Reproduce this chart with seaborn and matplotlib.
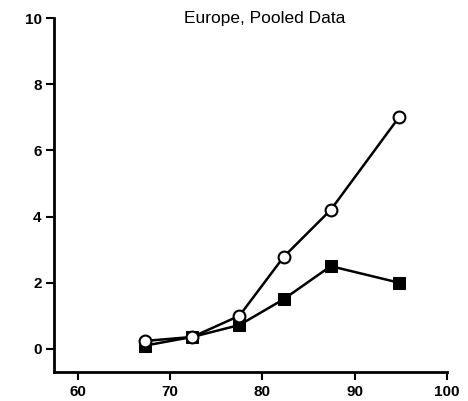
import seaborn as sns
import pandas as pd
import matplotlib.pyplot as plt

sns.set_style("ticks", {"axes.edgecolor": "black", "text.color": "black",
                        "xtick.color": "black", "ytick.color": "black"})
plt.rcParams['font.family'] = ['Liberation Sans', 'DejaVu Sans']

age = [67.3, 72.4, 77.5, 82.3, 87.4, 94.8]
open_vals = [0.24, 0.36, 1.0, 2.78, 4.2, 7.0]
filled_vals = [0.1, 0.36, 0.72, 1.5, 2.5, 2.0]

df_open = pd.DataFrame({"age": age, "value": open_vals})
df_filled = pd.DataFrame({"age": age, "value": filled_vals})

fig = plt.figure(figsize=(4.68, 4.01), dpi=100)
ax = fig.add_axes([0.1154, 0.0723, 0.8396, 0.8827])

sns.lineplot(data=df_filled, x="age", y="value", ax=ax, color="black", lw=1.8,
             marker="s", markersize=8.5, markerfacecolor="black", markeredgecolor="black")
sns.lineplot(data=df_open, x="age", y="value", ax=ax, color="black", lw=1.8,
             marker="o", markersize=8.5, markerfacecolor="white", markeredgecolor="black",
             markeredgewidth=1.5)

ax.set_xlim(57.4, 100)
ax.set_ylim(-0.7, 10)
ax.set_xticks([60, 70, 80, 90, 100])
ax.set_yticks([0, 2, 4, 6, 8, 10])
ax.set_xlabel("")
ax.set_ylabel("")
for s in ["left", "bottom"]:
    ax.spines[s].set_linewidth(2)
sns.despine(ax=ax)
ax.tick_params(length=6, width=1.5, labelsize=11, pad=3, colors="black")
for lab in ax.get_xticklabels() + ax.get_yticklabels():
    lab.set_fontweight("bold")

ax.text(0.535, 1.0, "Europe, Pooled Data", transform=ax.transAxes,
        ha="center", va="center", fontsize=12.5, color="black")

fig.savefig("out.png", dpi=100)
